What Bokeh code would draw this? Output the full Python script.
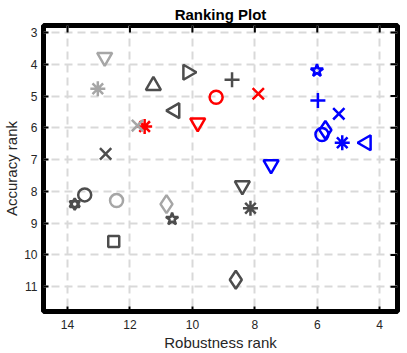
import numpy as np
from bokeh.plotting import figure
from bokeh.models import Range1d, FixedTicker, ColumnDataSource
from bokeh.embed import file_html
from bokeh.resources import INLINE

# ---- data ----
robustness = [12.81, 13.03, 11.25, 10.15, 8.73, 9.24, 7.89, 10.56, 9.83, 11.76,
              11.53, 12.78, 6.01, 5.98, 5.31, 5.85, 5.74, 5.20, 4.43, 7.48,
              8.40, 8.14, 13.77, 13.45, 12.43, 10.83, 10.65, 12.52, 8.61]
accuracy = [3.78, 4.77, 4.67, 4.25, 4.49, 5.04, 4.93, 5.46, 5.84, 5.93,
            5.96, 6.82, 4.20, 5.14, 5.56, 6.21, 6.07, 6.47, 6.47, 7.16,
            7.82, 8.53, 8.40, 8.11, 8.29, 8.40, 8.87, 9.58, 10.78]
symbols = ['v', '*', '^', '>', '+', 'o', 'x', '<', 'v', 'x',
           '*', 'x', 'p', '+', 'x', 'o', 'd', '*', '<', 'v',
           'v', '*', 'h', 'o', 'o', 'd', 'p', 's', 'd']
groups = ['light', 'light', 'dark', 'dark', 'dark', 'red', 'red', 'dark', 'red', 'light',
          'red', 'dark', 'blue', 'blue', 'blue', 'blue', 'blue', 'blue', 'blue', 'blue',
          'dark', 'dark', 'dark', 'dark', 'light', 'light', 'dark', 'dark', 'dark']
x_ticks = [4, 6, 8, 10, 12, 14]
y_ticks = [3, 4, 5, 6, 7, 8, 9, 10, 11]

group_color = {'light': '#a6a6a6', 'dark': '#4d4d4d', 'red': '#ff0000', 'blue': '#0000ff'}
# symbol -> (bokeh marker, size, angle)
marker_map = {
    'v': ('inverted_triangle', 15, 0.0),
    '^': ('triangle', 15, 0.0),
    '<': ('triangle', 15, np.pi / 2),
    '>': ('triangle', 15, -np.pi / 2),
    '*': ('asterisk', 15, 0.0),
    '+': ('cross', 15, 0.0),
    'x': ('x', 16, 0.0),
    'o': ('circle', 13, 0.0),
    'd': ('diamond', 18, 0.0),
    's': ('square', 11, 0.0),
    'p': ('star', 13, 0.0),
}

pad = 1.0
x_lo, x_hi = min(robustness) - pad, max(robustness) + pad
y_lo, y_hi = min(accuracy) - pad, max(accuracy) + pad

p = figure(width=407, height=353, output_backend="svg", toolbar_location=None,
           x_range=Range1d(x_hi, x_lo), y_range=Range1d(y_hi, y_lo),
           title="Ranking Plot", min_border_left=0, min_border_right=10,
           min_border_top=25, min_border_bottom=0)

p.title.align = "center"
p.title.text_font = "Liberation Sans"
p.title.text_font_size = "15px"
p.title.text_font_style = "bold"
p.title.text_color = "#000000"
p.title.standoff = 6
p.title.offset = -7

p.outline_line_color = "black"
p.outline_line_width = 5
p.background_fill_color = "white"
p.border_fill_color = "white"

for ax in (p.xaxis[0], p.yaxis[0]):
    ax.axis_line_color = None
    ax.major_tick_in = 5
    ax.major_tick_out = 0
    ax.major_tick_line_width = 2
    ax.major_tick_line_color = "black"
    ax.minor_tick_line_color = None
    ax.major_label_text_font = "Liberation Sans"
    ax.major_label_text_font_size = "12px"
    ax.major_label_text_color = "#262626"
    ax.axis_label_text_font = "Liberation Sans"
    ax.axis_label_text_font_size = "15px"
    ax.axis_label_text_font_style = "normal"
    ax.axis_label_text_color = "#262626"
p.xaxis[0].major_label_standoff = 8
p.yaxis[0].major_label_standoff = 6
p.xaxis[0].axis_label_standoff = 2
p.yaxis[0].axis_label_standoff = 1

p.xaxis[0].ticker = FixedTicker(ticks=x_ticks)
p.yaxis[0].ticker = FixedTicker(ticks=y_ticks)
p.xaxis[0].axis_label = "Robustness rank"
p.yaxis[0].axis_label = "Accuracy rank"

for g in (p.xgrid[0], p.ygrid[0]):
    g.grid_line_color = "#d9d9d9"
    g.grid_line_width = 2
    g.grid_line_dash = "8 5"
p.xgrid[0].ticker = FixedTicker(ticks=x_ticks)
p.ygrid[0].ticker = FixedTicker(ticks=y_ticks)

# inward tick marks on the top and right edges of the box
p.ray(x=x_ticks, y=[y_lo] * len(x_ticks), length=7, length_units="screen",
      angle=-np.pi / 2, line_color="black", line_width=2)
p.ray(x=[x_lo] * len(y_ticks), y=y_ticks, length=7, length_units="screen",
      angle=np.pi, line_color="black", line_width=2)

# markers
for sym in marker_map:
    idx = [i for i, s in enumerate(symbols) if s == sym]
    if not idx:
        continue
    mk, size, ang = marker_map[sym]
    src = ColumnDataSource(dict(
        x=[robustness[i] for i in idx],
        y=[accuracy[i] for i in idx],
        c=[group_color[groups[i]] for i in idx]))
    p.scatter('x', 'y', source=src, marker=mk, size=size, angle=ang,
              fill_color=None, line_color='c', line_width=2.5)

# hexagram: two overlaid triangles
idx = [i for i, s in enumerate(symbols) if s == 'h']
src = ColumnDataSource(dict(
    x=[robustness[i] for i in idx],
    y=[accuracy[i] for i in idx],
    c=[group_color[groups[i]] for i in idx]))
p.scatter('x', 'y', source=src, marker='triangle', size=10,
          fill_color=None, line_color='c', line_width=2.5)
p.scatter('x', 'y', source=src, marker='inverted_triangle', size=10,
          fill_color=None, line_color='c', line_width=2.5)

open("out.html", "w").write(file_html(p, INLINE))
